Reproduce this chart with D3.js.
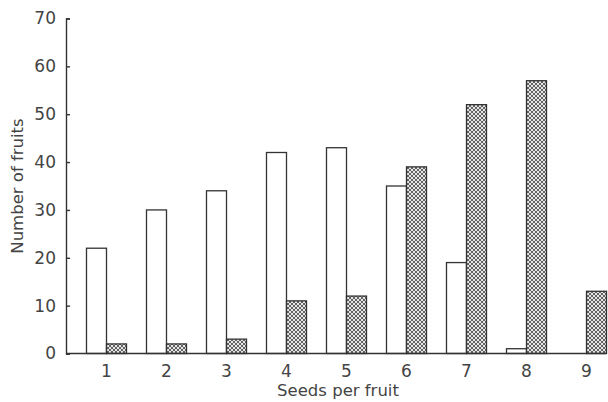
<!DOCTYPE html>
<html>
<head>
<meta charset="utf-8">
<script src="https://cdn.jsdelivr.net/npm/d3@7"></script>
<style>
  body { margin: 0; background: #fff; }
  text { font-family: "DejaVu Sans", sans-serif; fill: #444; }
</style>
</head>
<body>
<div id="chart"></div>
<script>
const MARGINS = {top: 18, bottom: 49, right: 0, left: 66};
const WIDTH = 608, HEIGHT = 402;

// data
const seeds = ['1', '2', '3', '4', '5', '6', '7', '8', '9'];
const openBars = [22, 30, 34, 42, 43, 35, 19, 1, 0];
const hatchedBars = [2, 2, 3, 11, 12, 39, 52, 57, 13];
const yTicks = [0, 10, 20, 30, 40, 50, 60, 70];

const svg = d3.select('#chart').append('svg')
    .attr('width', WIDTH)
    .attr('height', HEIGHT);

// crosshatch pattern
const defs = svg.append('defs');
const pat = defs.append('pattern')
    .attr('id', 'hatch')
    .attr('patternUnits', 'userSpaceOnUse')
    .attr('width', 4)
    .attr('height', 4);
pat.append('rect').attr('width', 4).attr('height', 4).attr('fill', '#e6e6e6');
pat.append('path')
    .attr('d', 'M0,0L4,4M4,0L0,4')
    .attr('stroke', '#555')
    .attr('stroke-width', 0.9);

const y = d3.scaleLinear()
    .domain([0, 70])
    .range([353.5, MARGINS.top + 0.5]);

// band per seed count, open bar left of centre, hatched right
const x = d3.scaleBand()
    .domain(seeds)
    .range([76.5, 616.5])
    .paddingInner(0)
    .paddingOuter(0);
const BAR_W = 20;
const centre = d => x(d) + x.bandwidth() / 2;

const chart = svg.append('g');

chart.selectAll('.open')
    .data(seeds.map((s, i) => ({s: s, v: openBars[i]})).filter(d => d.v > 0))
    .enter().append('rect')
    .attr('x', d => centre(d.s) - BAR_W)
    .attr('y', d => y(d.v))
    .attr('width', BAR_W)
    .attr('height', d => y(0) - y(d.v))
    .attr('fill', '#fff')
    .attr('stroke', '#333')
    .attr('stroke-width', 1.3);

chart.selectAll('.hatched')
    .data(seeds.map((s, i) => ({s: s, v: hatchedBars[i]})))
    .enter().append('rect')
    .attr('x', d => centre(d.s))
    .attr('y', d => y(d.v))
    .attr('width', BAR_W)
    .attr('height', d => y(0) - y(d.v))
    .attr('fill', 'url(#hatch)')
    .attr('stroke', '#333')
    .attr('stroke-width', 1.3);

// y axis, ticks point inward
const yAxis = d3.axisLeft(y).tickValues(yTicks).tickSize(-4).tickPadding(10);
const gy = chart.append('g')
    .attr('transform', `translate(${MARGINS.left}, 0)`)
    .call(yAxis);
gy.select('.domain').attr('stroke', '#333').attr('stroke-width', 1.4);
gy.selectAll('.tick line').attr('stroke', '#333').attr('stroke-width', 1.4);
gy.selectAll('.tick text')
    .style('font-size', '17px')
    .attr('fill', '#444');

// x axis baseline and labels
const xAxis = d3.axisBottom(x).tickSize(0).tickPadding(11);
const gx = chart.append('g')
    .attr('transform', `translate(0, ${y(0)})`)
    .call(xAxis);
gx.select('.domain').remove();
chart.append('line')
    .attr('x1', MARGINS.left).attr('x2', 606)
    .attr('y1', y(0)).attr('y2', y(0))
    .attr('stroke', '#333').attr('stroke-width', 1.4);
gx.selectAll('.tick text')
    .style('font-size', '17px')
    .attr('fill', '#444');

// axis titles
chart.append('text')
    .attr('x', 338).attr('y', 396)
    .attr('text-anchor', 'middle')
    .style('font-size', '16.5px')
    .text('Seeds per fruit');

chart.append('text')
    .attr('transform', 'translate(23, 186) rotate(-90)')
    .attr('text-anchor', 'middle')
    .style('font-size', '16.5px')
    .text('Number of fruits');
</script>
</body>
</html>
